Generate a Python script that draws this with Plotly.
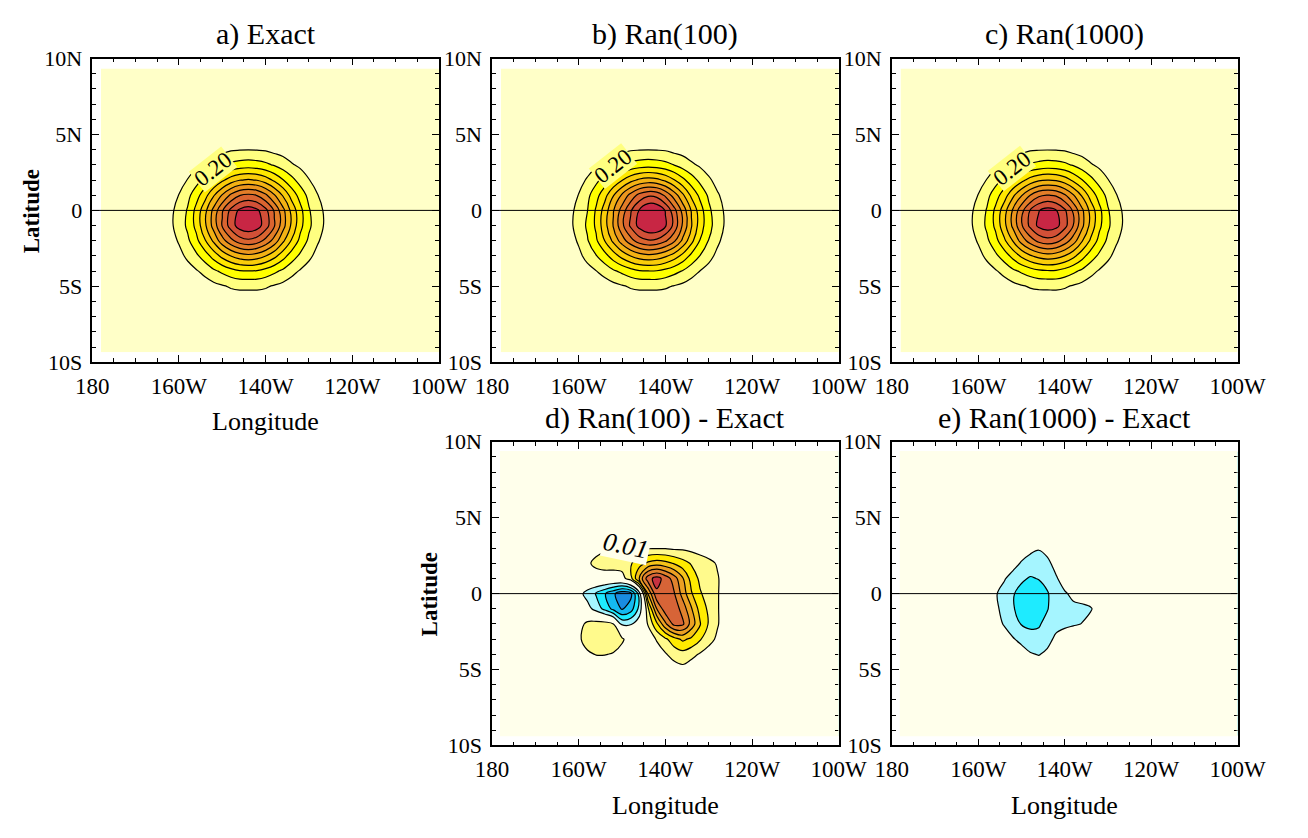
import plotly.graph_objects as go

FONT = "Liberation Serif"

# ---------------- axis ticks ----------------
LON_TICKS = [180, 200, 220, 240, 260]
LON_TICK_TEXT = ["180", "160W", "140W", "120W", "100W"]
LAT_TICKS = [-10, -5, 0, 5, 10]
LAT_TICK_TEXT = ["10S", "5S", "0", "5N", "10N"]

# ---------------- grids (degrees east / degrees north) ----------------
LON_FULL = [196, 198, 200, 202, 204, 206, 208, 210, 212, 214, 216,
            218, 220, 222, 224, 226, 228, 230, 232, 234, 236]
LAT_FULL = [-6, -5, -4, -3, -2, -1, 0, 1, 2, 3, 4, 5]

EXACT = [
    [0.00, 0.00, 0.01, 0.01, 0.01, 0.02, 0.02, 0.03, 0.04, 0.04, 0.04, 0.04, 0.04, 0.03, 0.02, 0.02, 0.01, 0.01, 0.01, 0.00, 0.00],
    [0.00, 0.01, 0.02, 0.02, 0.04, 0.05, 0.07, 0.09, 0.11, 0.12, 0.12, 0.12, 0.11, 0.09, 0.07, 0.05, 0.04, 0.02, 0.02, 0.01, 0.00],
    [0.01, 0.02, 0.04, 0.06, 0.09, 0.13, 0.18, 0.22, 0.26, 0.29, 0.297, 0.29, 0.26, 0.22, 0.18, 0.13, 0.09, 0.06, 0.04, 0.02, 0.01],
    [0.02, 0.04, 0.07, 0.12, 0.18, 0.25, 0.34, 0.43, 0.502, 0.55, 0.57, 0.55, 0.502, 0.43, 0.34, 0.25, 0.18, 0.12, 0.07, 0.04, 0.02],
    [0.03, 0.06, 0.11, 0.18, 0.27, 0.39, 0.52, 0.66, 0.77, 0.85, 0.88, 0.85, 0.77, 0.66, 0.52, 0.39, 0.27, 0.18, 0.11, 0.06, 0.03],
    [0.04, 0.08, 0.14, 0.22, 0.33, 0.48, 0.64, 0.81, 0.95, 1.05, 1.08, 1.05, 0.95, 0.81, 0.64, 0.48, 0.33, 0.22, 0.14, 0.08, 0.04],
    [0.04, 0.08, 0.13, 0.21, 0.33, 0.47, 0.63, 0.79, 0.93, 1.02, 1.06, 1.02, 0.93, 0.79, 0.63, 0.47, 0.33, 0.21, 0.13, 0.08, 0.04],
    [0.03, 0.06, 0.103, 0.17, 0.26, 0.36, 0.49, 0.61, 0.72, 0.797, 0.82, 0.797, 0.72, 0.61, 0.49, 0.36, 0.26, 0.17, 0.103, 0.06, 0.03],
    [0.02, 0.04, 0.06, 0.104, 0.16, 0.23, 0.304, 0.38, 0.45, 0.496, 0.51, 0.496, 0.45, 0.38, 0.304, 0.23, 0.16, 0.104, 0.06, 0.04, 0.02],
    [0.01, 0.02, 0.03, 0.05, 0.08, 0.11, 0.15, 0.19, 0.22, 0.24, 0.25, 0.24, 0.22, 0.19, 0.15, 0.11, 0.08, 0.05, 0.03, 0.02, 0.01],
    [0.00, 0.01, 0.01, 0.02, 0.03, 0.04, 0.06, 0.07, 0.09, 0.095, 0.097, 0.095, 0.09, 0.07, 0.06, 0.04, 0.03, 0.02, 0.01, 0.01, 0.00],
    [0.00, 0.00, 0.00, 0.01, 0.01, 0.01, 0.02, 0.02, 0.03, 0.03, 0.03, 0.03, 0.03, 0.02, 0.02, 0.01, 0.01, 0.01, 0.00, 0.00, 0.00],
]

RAN100 = [
    [0.00, 0.00, 0.01, 0.01, 0.01, 0.02, 0.02, 0.03, 0.04, 0.04, 0.04, 0.04, 0.04, 0.03, 0.02, 0.02, 0.01, 0.01, 0.01, 0.00, 0.00],
    [0.00, 0.01, 0.02, 0.02, 0.04, 0.05, 0.07, 0.09, 0.11, 0.12, 0.12, 0.12, 0.112, 0.094, 0.075, 0.053, 0.04, 0.02, 0.02, 0.01, 0.00],
    [0.01, 0.02, 0.042, 0.065, 0.097, 0.137, 0.185, 0.222, 0.26, 0.29, 0.297, 0.293, 0.268, 0.232, 0.193, 0.141, 0.098, 0.065, 0.042, 0.02, 0.01],
    [0.02, 0.04, 0.076, 0.132, 0.194, 0.264, 0.351, 0.434, 0.502, 0.55, 0.572, 0.558, 0.516, 0.452, 0.368, 0.274, 0.197, 0.131, 0.076, 0.042, 0.02],
    [0.03, 0.06, 0.114, 0.191, 0.282, 0.401, 0.524, 0.651, 0.762, 0.85, 0.888, 0.875, 0.815, 0.721, 0.578, 0.431, 0.295, 0.196, 0.119, 0.063, 0.03],
    [0.04, 0.08, 0.14, 0.216, 0.318, 0.461, 0.61, 0.774, 0.92, 1.036, 1.095, 1.098, 1.014, 0.872, 0.685, 0.51, 0.35, 0.235, 0.149, 0.083, 0.04],
    [0.04, 0.08, 0.126, 0.198, 0.312, 0.444, 0.594, 0.744, 0.89, 1.008, 1.095, 1.086, 0.994, 0.84, 0.665, 0.492, 0.346, 0.223, 0.138, 0.082, 0.04],
    [0.03, 0.06, 0.104, 0.173, 0.264, 0.364, 0.494, 0.616, 0.735, 0.835, 0.883, 0.869, 0.781, 0.655, 0.52, 0.379, 0.275, 0.183, 0.112, 0.063, 0.03],
    [0.02, 0.04, 0.063, 0.112, 0.173, 0.245, 0.319, 0.395, 0.468, 0.518, 0.538, 0.526, 0.478, 0.405, 0.324, 0.247, 0.175, 0.116, 0.067, 0.042, 0.02],
    [0.01, 0.02, 0.03, 0.052, 0.086, 0.118, 0.158, 0.198, 0.228, 0.248, 0.259, 0.249, 0.229, 0.198, 0.158, 0.117, 0.085, 0.053, 0.031, 0.02, 0.01],
    [0.00, 0.01, 0.01, 0.02, 0.03, 0.04, 0.06, 0.07, 0.09, 0.095, 0.097, 0.095, 0.09, 0.07, 0.06, 0.04, 0.03, 0.02, 0.01, 0.01, 0.00],
    [0.00, 0.00, 0.00, 0.01, 0.01, 0.01, 0.02, 0.02, 0.03, 0.03, 0.03, 0.03, 0.03, 0.02, 0.02, 0.01, 0.01, 0.01, 0.00, 0.00, 0.00],
]

RAN1000 = [
    [0.00, 0.00, 0.01, 0.01, 0.01, 0.02, 0.02, 0.03, 0.04, 0.04, 0.04, 0.04, 0.04, 0.03, 0.02, 0.02, 0.01, 0.01, 0.01, 0.00, 0.00],
    [0.00, 0.01, 0.02, 0.02, 0.04, 0.05, 0.07, 0.09, 0.108, 0.117, 0.118, 0.12, 0.11, 0.09, 0.07, 0.05, 0.04, 0.02, 0.02, 0.01, 0.00],
    [0.01, 0.02, 0.04, 0.06, 0.09, 0.13, 0.178, 0.215, 0.251, 0.28, 0.289, 0.286, 0.259, 0.22, 0.18, 0.13, 0.09, 0.06, 0.04, 0.02, 0.01],
    [0.02, 0.04, 0.07, 0.12, 0.179, 0.246, 0.331, 0.417, 0.486, 0.533, 0.557, 0.542, 0.497, 0.427, 0.339, 0.25, 0.18, 0.12, 0.07, 0.04, 0.02],
    [0.03, 0.06, 0.11, 0.18, 0.265, 0.379, 0.504, 0.64, 0.748, 0.829, 0.863, 0.837, 0.758, 0.649, 0.51, 0.384, 0.268, 0.18, 0.11, 0.06, 0.03],
    [0.04, 0.08, 0.14, 0.218, 0.322, 0.467, 0.621, 0.786, 0.924, 1.025, 1.06, 1.035, 0.937, 0.798, 0.628, 0.469, 0.325, 0.219, 0.14, 0.08, 0.04],
    [0.04, 0.08, 0.13, 0.208, 0.321, 0.456, 0.611, 0.766, 0.904, 0.995, 1.039, 1.006, 0.919, 0.782, 0.624, 0.467, 0.329, 0.21, 0.13, 0.08, 0.04],
    [0.03, 0.06, 0.103, 0.169, 0.256, 0.351, 0.476, 0.592, 0.699, 0.778, 0.804, 0.786, 0.714, 0.608, 0.489, 0.36, 0.26, 0.17, 0.103, 0.06, 0.03],
    [0.02, 0.04, 0.06, 0.104, 0.159, 0.227, 0.298, 0.369, 0.437, 0.483, 0.498, 0.489, 0.447, 0.379, 0.304, 0.23, 0.16, 0.104, 0.06, 0.04, 0.02],
    [0.01, 0.02, 0.03, 0.05, 0.08, 0.11, 0.148, 0.186, 0.212, 0.23, 0.243, 0.237, 0.22, 0.19, 0.15, 0.11, 0.08, 0.05, 0.03, 0.02, 0.01],
    [0.00, 0.01, 0.01, 0.02, 0.03, 0.04, 0.06, 0.07, 0.09, 0.095, 0.097, 0.095, 0.09, 0.07, 0.06, 0.04, 0.03, 0.02, 0.01, 0.01, 0.00],
    [0.00, 0.00, 0.00, 0.01, 0.01, 0.01, 0.02, 0.02, 0.03, 0.03, 0.03, 0.03, 0.03, 0.02, 0.02, 0.01, 0.01, 0.01, 0.00, 0.00, 0.00],
]

LON_D100 = [198, 200, 202, 204, 206, 208, 210, 212, 214, 216,
            218, 220, 222, 224, 226, 228, 230, 232, 234]
LAT_DIFF = [-5, -4, -3, -2, -1, 0, 1, 2, 3]
DIFF100 = [
    [0, 0, 0, 0, 0, 0, 0, 0, 0, 0, 0, 0.002, 0.005, 0.007, 0.004, 0.001, 0, 0, 0],
    [0, 0.003, 0.008, 0.0105, 0.0105, 0.009, 0.005, 0, 0, 0, 0.004, 0.009, 0.014, 0.016, 0.013, 0.009, 0.005, 0.002, 0],
    [0, 0.008, 0.015, 0.018, 0.018, 0.017, 0.012, 0.003, 0, 0.003, 0.011, 0.018, 0.026, 0.032, 0.028, 0.021, 0.014, 0.008, 0.002],
    [0, 0.005, 0.013, 0.015, 0.015, 0.01, -0.012, -0.011, -0.003, 0.011, 0.028, 0.048, 0.063, 0.062, 0.046, 0.031, 0.019, 0.011, 0.004],
    [0, -0.001, -0.006, -0.014, -0.023, -0.033, -0.041, -0.035, -0.017, 0.018, 0.05, 0.066, 0.066, 0.056, 0.041, 0.026, 0.018, 0.011, 0.004],
    [0, -0.006, -0.014, -0.021, -0.029, -0.038, -0.047, -0.043, -0.015, 0.041, 0.068, 0.067, 0.061, 0.046, 0.031, 0.021, 0.016, 0.011, 0.004],
    [0, 0.001, 0.003, 0.004, 0.004, 0.004, 0.006, 0.016, 0.042, 0.066, 0.074, 0.066, 0.055, 0.041, 0.026, 0.018, 0.015, 0.011, 0.005],
    [0, 0.003, 0.008, 0.013, 0.015, 0.015, 0.015, 0.019, 0.026, 0.032, 0.035, 0.033, 0.029, 0.024, 0.019, 0.016, 0.013, 0.009, 0.003],
    [0, 0, 0.002, 0.006, 0.008, 0.008, 0.008, 0.008, 0.008, 0.009, 0.009, 0.009, 0.008, 0.008, 0.007, 0.005, 0.003, 0.001, 0],
]

LON_D1000 = [202, 204, 206, 208, 210, 212, 214, 216, 218, 220, 222, 224, 226, 228, 230]
DIFF1000 = [
    [0, 0, 0, 0, 0, -0.002, -0.003, -0.002, 0, 0, 0, 0, 0, 0, 0],
    [0, 0, 0, -0.002, -0.005, -0.009, -0.0105, -0.008, -0.004, -0.001, 0, 0, 0, 0, 0],
    [0, -0.001, -0.004, -0.009, -0.013, -0.016, -0.017, -0.013, -0.008, -0.005, -0.003, -0.001, 0, 0, 0],
    [0, -0.005, -0.011, -0.016, -0.0205, -0.022, -0.021, -0.017, -0.013, -0.012, -0.011, -0.0098, -0.006, -0.002, 0],
    [-0.002, -0.008, -0.013, -0.019, -0.024, -0.026, -0.025, -0.0205, -0.015, -0.013, -0.012, -0.012, -0.011, -0.005, -0.001],
    [-0.002, -0.009, -0.014, -0.019, -0.024, -0.026, -0.025, -0.021, -0.014, -0.011, -0.008, -0.006, -0.003, -0.001, 0],
    [-0.001, -0.004, -0.009, -0.014, -0.018, -0.021, -0.0195, -0.016, -0.011, -0.006, -0.002, -0.001, 0, 0, 0],
    [0, -0.001, -0.003, -0.006, -0.011, -0.013, -0.013, -0.012, -0.007, -0.003, -0.001, 0, 0, 0, 0],
    [0, 0, 0, -0.002, -0.004, -0.008, -0.0095, -0.007, -0.003, 0, 0, 0, 0, 0, 0],
]

# ---------------- colours (one per band, lowest band first) ----------------
COLORS_FULL = [
    "rgb(255,255,200)", "rgb(255,255,128)", "rgb(255,255,0)", "rgb(255,232,0)",
    "rgb(250,205,10)", "rgb(243,178,20)", "rgb(235,150,30)", "rgb(226,125,40)",
    "rgb(218,100,48)", "rgb(210,80,55)", "rgb(200,38,68)",
]
PALE_DIFF = "rgb(255,255,235)"
COLORS_DIFF = [
    "rgb(25,140,225)", "rgb(20,185,240)", "rgb(30,235,255)", "rgb(165,245,255)",
    PALE_DIFF, PALE_DIFF, "rgb(255,250,140)", "rgb(255,235,0)",
    "rgb(245,195,25)", "rgb(235,160,35)", "rgb(225,130,45)", "rgb(215,100,55)",
    "rgb(200,50,65)",
]

EDGE_LON = [182.0, 260.0]
EDGE_LAT = [-9.35, 9.35]


def pad(lons, lats, rows):
    x = [EDGE_LON[0]] + list(lons) + [EDGE_LON[1]]
    y = [EDGE_LAT[0]] + list(lats) + [EDGE_LAT[1]]
    blank = [0.0] * len(x)
    z = [blank] + [[0.0] + list(r) + [0.0] for r in rows] + [blank]
    return x, y, z


def scale(colors):
    n = len(colors) - 1
    return [[k / n, c] for k, c in enumerate(colors)]


W, H = 1308, 838
X_PX = [(78, 437), (492, 851), (906, 1264), (492, 851), (906, 1264)]
Y_PX = [(48, 361), (48, 361), (48, 361), (443, 756), (443, 756)]
TITLES = ["a) Exact", "b) Ran(100)", "c) Ran(1000)",
          "d) Ran(100) - Exact", "e) Ran(1000) - Exact"]

fig = go.Figure()

full_fields = [EXACT, RAN100, RAN1000]
for i, field in enumerate(full_fields):
    x, y, z = pad(LON_FULL, LAT_FULL, field)
    fig.add_trace(go.Contour(
        x=x, y=y, z=z, xaxis=f"x{i + 1 if i else ''}", yaxis=f"y{i + 1 if i else ''}",
        autocontour=False,
        contours=dict(start=0.1, end=1.0, size=0.1, coloring="fill", showlines=True),
        colorscale=scale(COLORS_FULL), showscale=False,
        line=dict(color="black", width=1.2, smoothing=1.0),
        hoverinfo="skip",
    ))

diff_fields = [(LON_D100, DIFF100), (LON_D1000, DIFF1000)]
for j, (lons, field) in enumerate(diff_fields):
    k = j + 4
    x, y, z = pad(lons, LAT_DIFF, field)
    fig.add_trace(go.Contour(
        x=x, y=y, z=z, xaxis=f"x{k}", yaxis=f"y{k}",
        autocontour=False,
        contours=dict(start=-0.04, end=0.07, size=0.01, coloring="fill", showlines=False),
        colorscale=scale(COLORS_DIFF), showscale=False,
        line=dict(width=0, smoothing=1.0),
        hoverinfo="skip",
    ))
    for (s, e) in [(-0.04, -0.01), (0.01, 0.07)]:
        fig.add_trace(go.Contour(
            x=x, y=y, z=z, xaxis=f"x{k}", yaxis=f"y{k}",
            autocontour=False,
            contours=dict(start=s, end=e, size=0.01, coloring="none", showlines=True),
            showscale=False,
            line=dict(color="black", width=1.2, smoothing=1.0),
            hoverinfo="skip",
        ))

layout = dict(
    width=W, height=H, margin=dict(l=0, r=0, t=0, b=0),
    paper_bgcolor="white", plot_bgcolor="white", showlegend=False,
    font=dict(family=FONT, color="black"),
)
shapes = []
annotations = []
for i in range(5):
    sfx = str(i + 1) if i else ""
    x0, x1 = X_PX[i]
    y0, y1 = Y_PX[i]
    layout[f"xaxis{sfx}"] = dict(
        domain=[x0 / W, x1 / W], range=[180, 260], anchor=f"y{sfx}",
        tickmode="array", tickvals=LON_TICKS, ticktext=LON_TICK_TEXT,
        ticks="inside", ticklen=7, tickwidth=1, tickcolor="black",
        minor=dict(dtick=5, ticks="inside", ticklen=4, tickwidth=1, tickcolor="black", showgrid=False),
        showline=True, linecolor="black", linewidth=1.5, mirror="ticks",
        showgrid=False, zeroline=False, ticklabelstandoff=2,
        tickfont=dict(family=FONT, size=23, color="black"),
    )
    layout[f"yaxis{sfx}"] = dict(
        domain=[1 - y1 / H, 1 - y0 / H], range=[-10, 10], anchor=f"x{sfx}",
        tickmode="array", tickvals=LAT_TICKS, ticktext=LAT_TICK_TEXT,
        ticks="inside", ticklen=7, tickwidth=1, tickcolor="black",
        minor=dict(dtick=1, ticks="inside", ticklen=4, tickwidth=1, tickcolor="black", showgrid=False),
        showline=True, linecolor="black", linewidth=1.5, mirror="ticks",
        showgrid=False, zeroline=False, ticklabelstandoff=4,
        tickfont=dict(family=FONT, size=22, color="black"),
    )
    if i >= 3:
        # mask the anti-aliased rim of the contour background at the data edges
        shapes.append(dict(type="rect", xref=f"x{sfx}", yref=f"y{sfx}",
                           x0=EDGE_LON[0], x1=EDGE_LON[1], y0=EDGE_LAT[0], y1=EDGE_LAT[1],
                           line=dict(color=PALE_DIFF, width=1.5), fillcolor="rgba(0,0,0,0)",
                           layer="above"))
    shapes.append(dict(type="line", xref=f"x{sfx}", yref=f"y{sfx}", x0=180, x1=260, y0=0, y1=0,
                       line=dict(color="black", width=1), layer="above"))
    annotations.append(dict(text=TITLES[i], xref="paper", yref="paper",
                            x=(x0 + x1) / 2 / W, y=1 - (y0 - 25) / H,
                            xanchor="center", yanchor="middle", showarrow=False,
                            font=dict(family=FONT, size=30, color="black")))

# axis titles
for (cx, cy) in [(257.5, 422), (671.5, 818), (1085, 818)]:
    annotations.append(dict(text="Longitude", xref="paper", yref="paper", x=cx / W, y=1 - cy / H,
                            xanchor="center", yanchor="middle", showarrow=False,
                            font=dict(family=FONT, size=26, color="black")))
for (cx, cy) in [(15, 205), (427, 600)]:
    annotations.append(dict(text="<b>Latitude</b>", xref="paper", yref="paper", x=cx / W, y=1 - cy / H,
                            xanchor="center", yanchor="middle", showarrow=False, textangle=-90,
                            font=dict(family=FONT, size=23, color="black")))

# contour labels (the contour line is interrupted under the label)
for sfx, (lx, ly) in [("", (207.8, 2.7)), ("2", (207.8, 2.9)), ("3", (207.8, 2.75))]:
    annotations.append(dict(text="0.20", xref=f"x{sfx}", yref=f"y{sfx}", x=lx, y=ly,
                            xanchor="center", yanchor="middle", showarrow=False, textangle=-38,
                            bgcolor="rgb(255,255,128)", borderpad=0,
                            font=dict(family=FONT, size=23, color="black")))
annotations.append(dict(text="<i>0.01</i>", xref="x4", yref="y4", x=210.8, y=3.15,
                        xanchor="center", yanchor="middle", showarrow=False, textangle=12,
                        bgcolor=PALE_DIFF, borderpad=0,
                        font=dict(family=FONT, size=26, color="black")))

layout["shapes"] = shapes
layout["annotations"] = annotations
fig.update_layout(**layout)

fig.write_html("out.html")
